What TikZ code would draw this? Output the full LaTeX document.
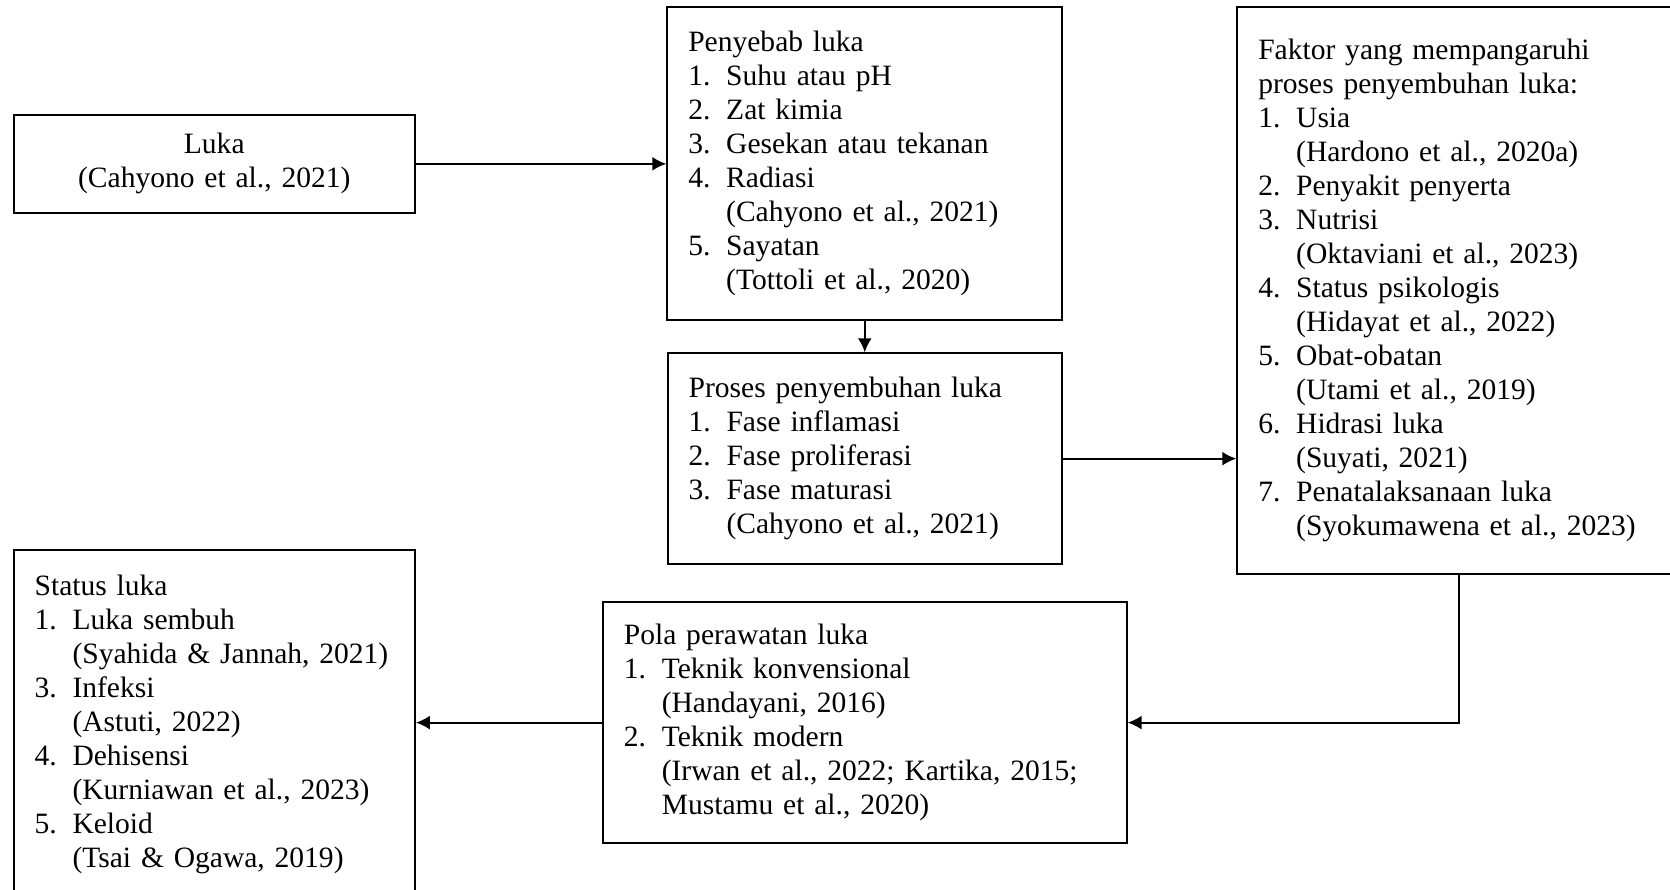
\documentclass[tikz,border=0pt]{standalone}
\usepackage{fontspec}
\setmainfont{Liberation Serif}
\usetikzlibrary{positioning,arrows.meta}

\newlength{\numw}
\setlength{\numw}{15.4pt}
\newcommand{\lnum}[1]{\makebox[\numw][l]{#1}}
\newcommand{\lcont}{\hspace*{\numw}}

\begin{document}
\begin{tikzpicture}[
    box/.style={draw,line width=0.8pt,inner xsep=0.3cm,inner ysep=0pt,align=left,
      font=\fontsize{12}{13.8}\selectfont},
    link/.style={line width=0.8pt,-{Latex[length=5.7pt,width=5.7pt]}}]
  \useasboundingbox (0,0) rectangle (23.85,-12.70);

  \node[box,align=center,text width=5.13cm,minimum height=1.40cm] (luka) at (3.06,-2.34)
    {Luka\\(Cahyono et al., 2021)};
  \node[box,text width=5.04cm,minimum height=4.47cm] (sebab) at (12.35,-2.33)
    {Penyebab luka\\
     \lnum{1.}Suhu atau pH\\
     \lnum{2.}Zat kimia\\
     \lnum{3.}Gesekan atau tekanan\\
     \lnum{4.}Radiasi\\
     \lcont(Cahyono et al., 2021)\\
     \lnum{5.}Sayatan\\
     \lcont(Tottoli et al., 2020)};
  \node[box,text width=5.03cm,minimum height=3.01cm] (proses) at (12.35,-6.55)
    {Proses penyembuhan luka\\
     \lnum{1.}Fase inflamasi\\
     \lnum{2.}Fase proliferasi\\
     \lnum{3.}Fase maturasi\\
     \lcont(Cahyono et al., 2021)};
  \node[box,text width=5.74cm,minimum height=8.10cm] (faktor) at (20.84,-4.15)
    {Faktor yang mempangaruhi\\
     proses penyembuhan luka:\\
     \lnum{1.}Usia\\
     \lcont(Hardono et al., 2020a)\\
     \lnum{2.}Penyakit penyerta\\
     \lnum{3.}Nutrisi\\
     \lcont(Oktaviani et al., 2023)\\
     \lnum{4.}Status psikologis\\
     \lcont(Hidayat et al., 2022)\\
     \lnum{5.}Obat-obatan\\
     \lcont(Utami et al., 2019)\\
     \lnum{6.}Hidrasi luka\\
     \lcont(Suyati, 2021)\\
     \lnum{7.}Penatalaksanaan luka\\
     \lcont(Syokumawena et al., 2023)};
  \node[box,text width=6.88cm,minimum height=3.44cm] (pola) at (12.35,-10.32)
    {Pola perawatan luka\\
     \lnum{1.}Teknik konvensional\\
     \lcont(Handayani, 2016)\\
     \lnum{2.}Teknik modern\\
     \lcont(Irwan et al., 2022; Kartika, 2015;\\
     \lcont Mustamu et al., 2020)};
  \node[box,text width=5.13cm,minimum height=5.00cm] (status) at (3.06,-10.35)
    {Status luka\\
     \lnum{1.}Luka sembuh\\
     \lcont(Syahida \& Jannah, 2021)\\
     \lnum{3.}Infeksi\\
     \lcont(Astuti, 2022)\\
     \lnum{4.}Dehisensi\\
     \lcont(Kurniawan et al., 2023)\\
     \lnum{5.}Keloid\\
     \lcont(Tsai \& Ogawa, 2019)};

  \draw[link] (luka.east) -- (luka.east -| sebab.west);
  \draw[link] (sebab) -- (proses);
  \draw[link] (proses.east) -- (proses.east -| faktor.west);
  \draw[link] (faktor.south) |- (pola.east);
  \draw[link] (pola.west) -- (pola.west -| status.east);
\end{tikzpicture}
\end{document}
